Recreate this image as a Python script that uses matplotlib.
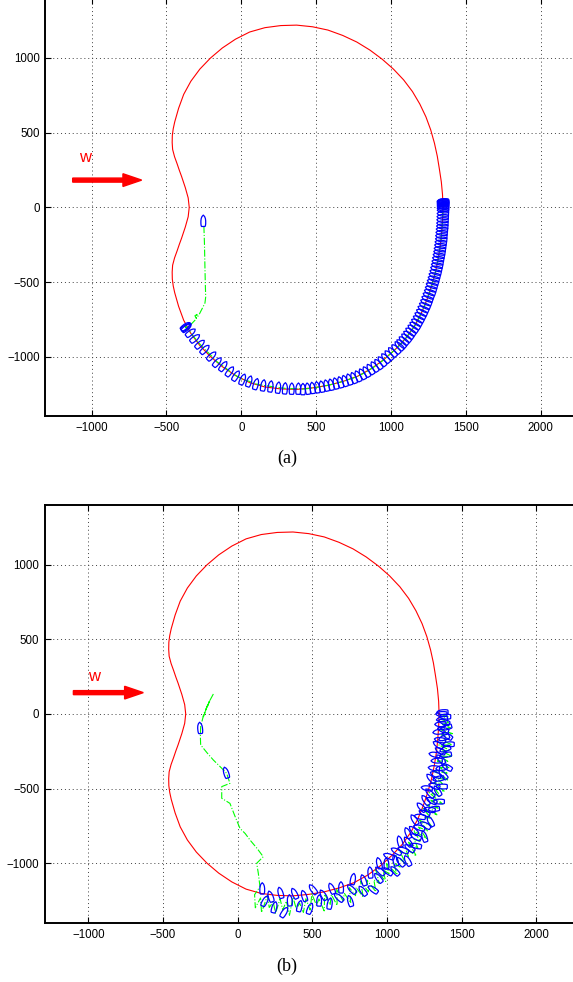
import numpy as np
import matplotlib.pyplot as plt
from matplotlib.collections import PolyCollection

# reference path (red), identical in both panels
path_x = [1348, 1345, 1337, 1324, 1310, 1291, 1266, 1234, 1193, 1144, 1085, 1017, 942, 860, 772,
          678, 579, 476, 370, 264, 158, 56, -39, -127, -206, -277, -337, -385, -419, -445, -455,
          -461, -462, -459, -446, -429, -414, -399, -374, -355, -348,
          -355, -374, -399, -414, -429, -446, -459, -462, -461, -455, -445, -419, -385, -337,
          -277, -206, -127, -39, 56, 158, 264, 370, 476, 580, 682, 780, 872, 956, 1033, 1102,
          1160, 1206, 1243, 1273, 1298, 1316, 1330, 1339, 1345, 1348]
path_y = [0, 85, 170, 256, 342, 429, 518, 605, 691, 774, 852, 924, 990, 1051, 1105,
          1149, 1185, 1207, 1218, 1215, 1201, 1172, 1124, 1065, 998, 924, 843, 755, 662, 571, 525,
          480, 433, 387, 338, 291, 247, 206, 131, 63, 0,
          -63, -131, -206, -247, -291, -338, -387, -433, -480, -525, -571, -662, -755, -843,
          -924, -998, -1065, -1124, -1172, -1201, -1214, -1217, -1207, -1190, -1163, -1128, -1077, -1015, -946, -872,
          -790, -702, -611, -522, -433, -344, -257, -171, -85, 0]

# panel (a): first boat, then the track of the boat (green) and boat outlines (blue)
first_boat_a = (-254, -90, 90)
lead_a_x = [-250, -246, -243, -240, -238, -243, -258, -281, -300, -310, -296, -303, -330, -358, -372]
lead_a_y = [-125, -250, -400, -530, -600, -640, -670, -715, -742, -725, -716, -748, -776, -798, -805]
boat_a_x = [-372, -368, -365, -338, -309, -276, -243, -198, -160, -120, -76, -35, 9, 53, 98, 147,
            196, 247, 292, 337, 381, 412, 444, 476, 507, 538, 569, 600, 631, 662, 692, 722, 751,
            780, 809, 836, 863, 890, 916, 940, 964, 987, 1010, 1033, 1055,
            1069, 1085, 1102, 1117, 1131, 1146, 1160, 1172, 1184, 1195, 1206, 1216, 1226, 1235,
            1243, 1251, 1260, 1267, 1273, 1280, 1286, 1292, 1298, 1303, 1308, 1312, 1316, 1320,
            1324, 1327, 1330, 1333, 1336, 1337, 1339, 1341, 1343, 1344, 1345, 1346, 1347, 1348,
            1348, 1348, 1348, 1348, 1348, 1348, 1348, 1348, 1348, 1348]
boat_a_y = [-795, -800, -805, -838, -876, -915, -950, -994, -1035, -1062, -1097, -1126, -1150, -1163,
            -1181, -1190, -1197, -1205, -1210, -1212, -1212, -1215, -1212, -1207, -1203, -1198,
            -1191, -1185, -1177, -1169, -1160, -1150, -1140, -1128, -1114, -1099, -1082, -1065,
            -1048, -1029, -1008, -988, -967, -947, -926,
            -911, -891, -872, -852, -831, -811, -790, -768, -746, -724, -702, -679, -657, -634,
            -611, -589, -567, -544, -522, -499, -477, -455, -433, -410, -388, -366, -344, -322,
            -301, -279, -257, -236, -214, -192, -171, -149, -128, -107, -85, -64, -43, -21,
            -8, 2, 10, 17, 23, 28, 32, 36, 39, 42]

# panel (b): noisy track, first part in x/y
lead_b_x = [-163, -197, -230, -185, -226, -248, -250, -248, -205, -163, -110, -74, -52, -107, -107,
            -52, -20, 15, 50, 82, 130, 171, 127, 138, 149]
lead_b_y = [134, 71, -18, 94, 4, -85, -150, -207, -260, -308, -360, -397, -464, -486, -564,
            -598, -680, -765, -800, -843, -900, -955, -999, -1066, -1156]
# rest of panel (b) read as angle (deg) / distance about arc_center
arc_center = (370, 0)
arc_b_ang = [-102, -101, -100, -99, -98, -97, -96, -95, -94, -93, -92, -91, -90, -89, -88, -87, -86,
             -85, -84, -83, -82, -81, -80, -79, -78, -77, -76, -75, -74, -73, -72, -71, -70, -69,
             -68, -67, -66, -65, -64, -63, -62, -61, -60, -59, -58, -57, -56, -55, -54, -53, -52,
             -51, -50, -49, -48, -47, -46, -45, -44, -43, -42, -41, -40, -39, -38, -37, -36, -35,
             -34, -33, -32, -31, -30, -29, -28, -27, -26, -25, -24, -23, -22, -21, -20, -19, -18,
             -17, -16, -15, -14, -13, -12, -11, -10, -9, -8, -7, -6, -5, -4, -3, -2, -1, 0]
arc_b_rad = [1236, 1321, 1250, 1345, 1225, 1305, 1264, 1339, 1239, 1313, 1253, 1347, 1227, 1306,
             1266, 1330, 1239, 1317, 1211, 1290, 1250, 1334, 1223, 1302, 1236, 1315, 1210, 1294,
             1249, 1323, 1222, 1286, 1235, 1313, 1206, 1293, 1216, 1313, 1235, 1273, 1180, 1281,
             1202, 1248, 1180, 1282, 1198, 1250, 1172, 1259, 1151, 1227, 1173, 1259, 1155, 1226,
             1166, 1207, 1122, 1222, 1131, 1192, 1107, 1192, 1122, 1161, 1071, 1176, 1087, 1158,
             1088, 1168, 1053, 1129, 1080, 1136, 1047, 1104, 1050, 1132, 1018, 1105, 1047, 1104,
             1016, 1084, 1021, 1104, 1026, 1080, 998, 1086, 1014, 1058, 1002, 1076, 985, 1059,
             1004, 1048, 988, 1038, 978]
lead_boat_b_x = [-252, -78]
lead_boat_b_y = [-93, -392]
lead_boat_b_head = [95, 108]
boat_b_ang = [-100, -98.5, -97, -95.5, -94, -92.5, -91, -89.5, -88, -86.5, -85, -83.5, -82, -80.5,
              -79, -77.5, -76, -74.5, -73, -71.5, -70, -68.5, -67, -65.5, -64, -62.5, -61,
              -60, -59, -58, -57, -56, -55, -54, -53, -52, -51, -50, -49, -48, -47, -46, -45,
              -44, -43, -42, -41, -40, -39, -38, -37, -36, -35, -34, -33, -32, -31, -30, -29,
              -28, -27, -26, -25, -24, -23, -22, -21, -20, -19, -18, -17, -16, -15, -14, -13,
              -12, -11, -10, -9, -8, -7, -6, -5, -4, -3, -2, -1, 0, 0.7]
boat_b_rad = [1185, 1265, 1230, 1299, 1199, 1328, 1247, 1201, 1286, 1219, 1307, 1181, 1260, 1228,
              1292, 1196, 1265, 1204, 1308, 1236, 1175, 1272, 1208, 1290, 1180, 1237, 1201,
              1152, 1228, 1180, 1252, 1148, 1195, 1222, 1149, 1246, 1172, 1113, 1189, 1150, 1206,
              1106, 1162, 1122, 1202, 1136, 1077, 1157, 1092, 1167, 1101, 1061, 1116, 1137, 1058,
              1093, 1138, 1058, 1024, 1095, 1061, 1107, 1019, 1065, 1037, 1083, 1010, 1057, 1089,
              1011, 1034, 986, 1059, 1016, 1045, 993, 1061, 999, 1023, 1042, 981, 1010, 1029,
              989, 1013, 998, 1018, 993, 1000]
boat_b_head = [90, 62, 108, 75, 106, 58, 94, 116, 77, 109, 70, 127, 88, 120, 81, 113, 139, 91, 107,
               134, 80, 127, 108, 145, 96, 128, 139,
               105, 146, 92, 133, 159, 105, 131, 152, 118, 159, 105, 146, 127, 168, 114, 155, 136,
               107, 163, 124, 150, 171, 117, 158, 134, 170, 186, 127, 153, 179, 135, 171, 122, 163,
               179, 135, 191, 157, 133, 174, 190, 151, 182, 133, 169, 190, 151, 202, 148, 179, 170,
               201, 147, 188, 164, 195, 181, 162, 188, 179, 180, 182]

# wind arrow (start x, end x, y) and label position per panel
wind_a = (-1127, -666, 182, -1045, 334)
wind_b = (-1100, -632, 143, -962, 250)

x_ticks = [-1000, -500, 0, 500, 1000, 1500, 2000]
y_ticks = [-1000, -500, 0, 500, 1000]

# hull outline in boat frame (u along heading, v across)
hull_u = [38, 28, 15, 0, -20, -34, -38, -38, -34, -20, 0, 15, 28, 38]
hull_v = [0, 9, 14, 16, 16, 14, 11, -11, -14, -16, -16, -14, -9, 0]


def boats(xs, ys, heads):
    u = np.array(hull_u, float)
    v = np.array(hull_v, float)
    polys = []
    for x, y, h in zip(xs, ys, heads):
        t = np.radians(h)
        px = x + u * np.cos(t) - v * np.sin(t)
        py = y + u * np.sin(t) + v * np.cos(t)
        polys.append(np.column_stack([px, py]))
    return PolyCollection(polys, facecolors="none", edgecolors="#0000ff", linewidths=0.9, zorder=4)


def polar(ang, rad):
    a = np.radians(ang)
    r = np.asarray(rad, float)
    return arc_center[0] + r * np.cos(a), arc_center[1] + r * np.sin(a)


def setup(ax, xlim, ylim):
    ax.set_xlim(xlim)
    ax.set_ylim(ylim)
    ax.set_xticks(x_ticks)
    ax.set_yticks(y_ticks)
    ax.grid(True, color="#404040", linestyle=(0, (1, 3)), linewidth=0.7)
    ax.set_axisbelow(True)
    ax.tick_params(direction="in", length=4, width=0.8, top=True, right=True,
                   labelsize=8.3, pad=4)
    for lab in ax.get_xticklabels() + ax.get_yticklabels():
        lab.set_family("Liberation Sans")
    for s in ax.spines.values():
        s.set_linewidth(1.4)


def wind(ax, w):
    x0, x1, y, lx, ly = w
    ax.arrow(x0, y, x1 - x0, 0, width=27, head_width=85, head_length=125,
             length_includes_head=True, color="#ff0000", zorder=5)
    ax.text(lx, ly, "w", color="#ff0000", fontsize=12, ha="center", va="center",
            family="Liberation Sans")


W, H = 573, 982
fig = plt.figure(figsize=(W / 100, H / 100), dpi=100)

# panel (a)
ax_a = fig.add_axes([45.3 / W, 1 - 416.0 / H, 540.1 / W, 418.1 / H])
setup(ax_a, (-1310, 2300), (-1395, 1400))
ax_a.plot(path_x, path_y, color="#ff0000", lw=0.8, zorder=2)
ax_a.plot(lead_a_x + boat_a_x, lead_a_y + boat_a_y, color="#00ff00", lw=0.8, ls="-.", zorder=3)
track_x = np.array(boat_a_x, float)
track_y = np.array(boat_a_y, float)
head_a = np.degrees(np.arctan2(np.gradient(track_y), np.gradient(track_x))) + 90
ax_a.add_collection(boats(boat_a_x, boat_a_y, head_a))
ax_a.add_collection(boats([first_boat_a[0]], [first_boat_a[1]], [first_boat_a[2]]))
wind(ax_a, wind_a)

# panel (b)
ax_b = fig.add_axes([45.0 / W, 1 - 923.2 / H, 536.3 / W, 418.4 / H])
setup(ax_b, (-1290, 2300), (-1400, 1400))
ax_b.plot(path_x, path_y, color="#ff0000", lw=0.8, zorder=2)
gx, gy = polar(arc_b_ang, arc_b_rad)
ax_b.plot(lead_b_x + list(gx), lead_b_y + list(gy), color="#00ff00", lw=0.8, ls="-.", zorder=3)
bx, by = polar(boat_b_ang, boat_b_rad)
ax_b.add_collection(boats(list(bx) + lead_boat_b_x, list(by) + lead_boat_b_y,
                          boat_b_head + lead_boat_b_head))
wind(ax_b, wind_b)

fig.text(0.501, 1 - 458 / H, "(a)", ha="center", va="center", fontsize=13, family="Liberation Serif")
fig.text(0.501, 1 - 966 / H, "(b)", ha="center", va="center", fontsize=13, family="Liberation Serif")

fig.savefig("out.png", dpi=100)
